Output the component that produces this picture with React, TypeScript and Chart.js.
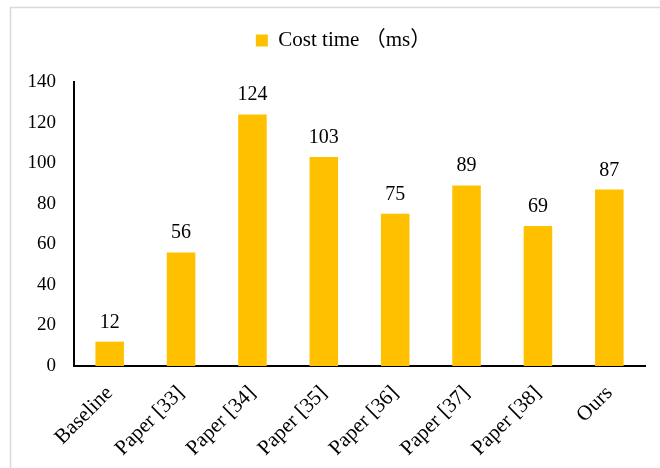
import React, { useEffect, useRef } from "react";
import { Chart, registerables } from "chart.js";

Chart.register(...registerables);

const categories = ["Baseline", "Paper [33]", "Paper [34]", "Paper [35]", "Paper [36]", "Paper [37]", "Paper [38]", "Ours"];
const costTime = [12, 56, 124, 103, 75, 89, 69, 87];
const seriesLabel = "Cost time （ms）";
const yMin = 0;
const yMax = 140;
const yStep = 20;

const FONT = '"Liberation Serif", "Times New Roman", "Noto Sans CJK SC", serif';
const BAR = "#FFC000";

export default function App() {
  const ref = useRef<HTMLCanvasElement | null>(null);
  useEffect(() => {
    const canvas = ref.current!;
    const framePlugin = {
      id: "frame",
      beforeUpdate(chart: any) {
        const lg = chart.legend;
        if (lg && !lg.__patched) {
          const orig = lg.fit;
          lg.fit = function () {
            orig.call(this);
            this.height += 20;
          };
          const origDraw = lg.draw;
          lg.draw = function () {
            const ctx = this.ctx;
            ctx.save();
            ctx.translate(21, -1);
            origDraw.call(this);
            ctx.restore();
          };
          lg.__patched = true;
        }
      },
      beforeDraw(chart: any) {
        const ctx = chart.ctx;
        ctx.save();
        ctx.fillStyle = "#ffffff";
        ctx.fillRect(0, 0, chart.width, chart.height);
        ctx.strokeStyle = "#d9d9d9";
        ctx.lineWidth = 1.5;
        ctx.beginPath();
        ctx.moveTo(10.5, chart.height + 2);
        ctx.lineTo(10.5, 7.5);
        ctx.lineTo(chart.width + 2, 7.5);
        ctx.stroke();
        ctx.restore();
      },
    };
    const labelPlugin = {
      id: "valueLabels",
      afterDatasetsDraw(chart: any) {
        const ctx = chart.ctx;
        const meta = chart.getDatasetMeta(0);
        ctx.save();
        ctx.font = `20px ${FONT}`;
        ctx.fillStyle = "#000";
        ctx.textAlign = "center";
        ctx.textBaseline = "alphabetic";
        meta.data.forEach((bar: any, i: number) => {
          ctx.fillText(String(chart.data.datasets[0].data[i]), bar.x, bar.y - 14);
        });
        ctx.restore();
      },
    };
    const chart = new Chart(canvas, {
      type: "bar",
      data: {
        labels: categories,
        datasets: [
          {
            label: seriesLabel,
            data: costTime,
            backgroundColor: BAR,
            borderWidth: 0,
            barPercentage: 0.4,
            categoryPercentage: 1,
          },
        ],
      },
      options: {
        animation: false,
        responsive: false,
        devicePixelRatio: 1,
        layout: { padding: { top: 21, right: 15, left: 0, bottom: 0 } },
        plugins: {
          legend: {
            display: true,
            position: "top",
            labels: {
              boxWidth: 12,
              boxHeight: 12,
              color: "#000",
              font: { family: FONT, size: 21 },
              padding: 10,
            },
          },
          tooltip: { enabled: false },
        },
        scales: {
          x: {
            grid: { display: false, drawTicks: false },
            border: { display: true, color: "#000", width: 2 },
            ticks: {
              color: "#000",
              font: { family: FONT, size: 21 },
              minRotation: 45,
              maxRotation: 45,
              padding: 15,
            },
            afterFit(scale: any) {
              scale.height = 102;
            },
          },
          y: {
            min: yMin,
            max: yMax,
            grid: { display: false, drawTicks: false },
            border: { display: true, color: "#000", width: 2 },
            ticks: {
              stepSize: yStep,
              color: "#000",
              font: { family: FONT, size: 19 },
              padding: 18,
            },
            afterFit(scale: any) {
              scale.width = 74;
            },
          },
        },
      },
      plugins: [framePlugin, labelPlugin],
    });
    return () => chart.destroy();
  }, []);
  return (
    <div style={{ position: "fixed", left: 0, top: 0, width: 660, height: 468, background: "#fff" }}>
      <canvas ref={ref} width={660} height={468} style={{ width: 660, height: 468 }} />
    </div>
  );
}
